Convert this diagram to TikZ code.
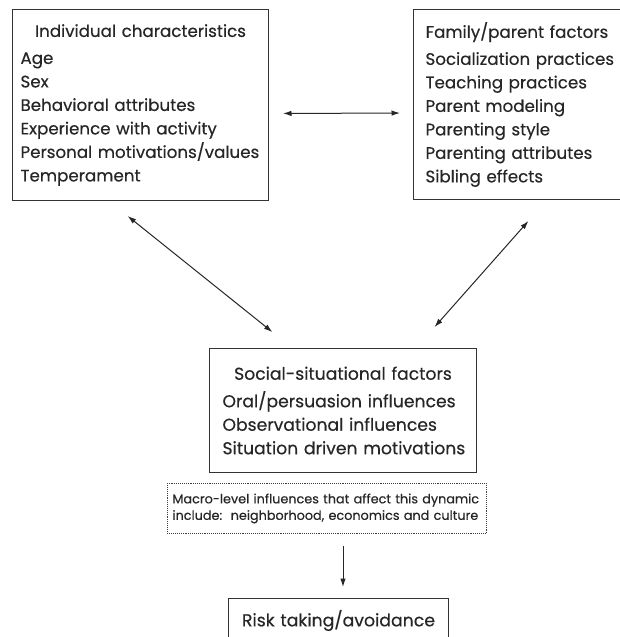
\documentclass[tikz,border=0pt]{standalone}
\usepackage{fontspec}
\setmainfont{Poppins}[FakeBold=0.4]
\usetikzlibrary{calc,arrows.meta}

\begin{document}
\begin{tikzpicture}[x=1pt,y=-1pt,
  factorbox/.style={draw=black!80,line width=1pt,align=left,anchor=north west,
    inner ysep=0pt,text=black!85,font=\fontsize{16.7}{23.5}\selectfont},
  link/.style={{Latex[length=8.5pt,width=5.5pt]}-{Latex[length=8.5pt,width=5.5pt]},
    black!85,line width=1pt}]
\clip (0,0) rectangle (620,637);
%
% the three groups of factors
\node[factorbox,inner xsep=8pt,text width=240pt,minimum height=191pt] (indiv) at (12,9)
  {\makebox[\linewidth]{Individual characteristics}\\[3.5pt]
   Age\\ Sex\\ \mbox{Behavioral attributes}\\ \mbox{Experience with activity}\\
   \mbox{Personal motivations/values}\\ Temperament};
\node[factorbox,inner xsep=12pt,text width=183pt,minimum height=190pt] (family) at (413,9)
  {\makebox[\linewidth]{Family/parent factors}\\[3.5pt]
   \mbox{Socialization practices}\\ \mbox{Teaching practices}\\ \mbox{Parent modeling}\\
   \mbox{Parenting style}\\ \mbox{Parenting attributes}\\ \mbox{Sibling effects}};
\node[factorbox,inner xsep=13pt,text width=241pt,minimum height=124pt,
  font=\fontsize{17.2}{23.5}\selectfont] (social) at (209,348)
  {\makebox[\linewidth]{Social-situational factors}\\[4pt]
   \mbox{Oral/persuasion influences}\\ \mbox{Observational influences}\\
   \mbox{Situation driven motivations}};
%
% macro level note (dotted) and outcome
\node[factorbox,draw=black!75,line width=0.9pt,densely dotted,inner xsep=5pt,text width=309pt,
  minimum height=50pt,font=\fontsize{12.8}{16.5}\selectfont] (macro) at (167,483)
  {\mbox{Macro-level influences that affect this dynamic}\\
   \mbox{include:\ \ neighborhood, economics and culture}};
\node[factorbox,align=center,inner xsep=0pt,text width=220pt,minimum height=44pt,
  font=\fontsize{17.3}{23.5}\selectfont] (risk) at (228,598)
  {Risk taking/avoidance};
%
% two way links
\draw[link,shorten <=14pt,shorten >=13pt] ([yshift=-8.5pt]indiv.east) -- ([yshift=-8.5pt]family.west);
\draw[link,shorten <=24pt,shorten >=25.5pt] ([xshift=-31.6pt]indiv.south) -- ([xshift=-50.7pt]social.north);
\draw[link,shorten <=28pt,shorten >=28pt] ([xshift=30pt]family.south) -- ([xshift=73pt]social.north);
% outcome
\draw[-{Latex[length=8.5pt,width=5.5pt]},black!85,line width=1pt,shorten <=12pt,shorten >=11pt]
  (social.south |- macro.south) -- (social.south |- risk.north);
\end{tikzpicture}
\end{document}
